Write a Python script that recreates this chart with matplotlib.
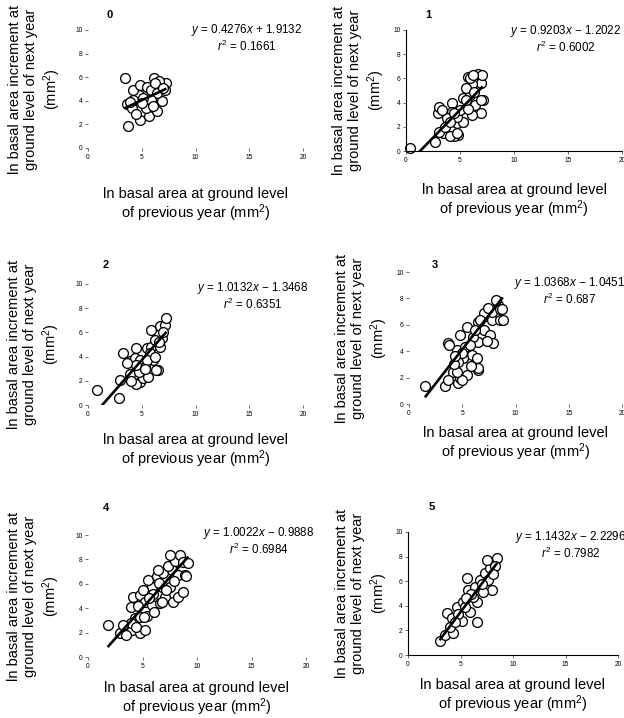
import numpy as np
import matplotlib.pyplot as plt

plt.rcParams['font.family'] = ['Liberation Sans', 'DejaVu Sans']
plt.rcParams['mathtext.fontset'] = 'custom'
plt.rcParams['mathtext.rm'] = 'Liberation Sans'
plt.rcParams['mathtext.it'] = 'Liberation Sans:italic'

W, H = 624, 718

# ln basal area previous year (x) vs ln basal area increment next year (y), per panel
x0 = [3.4, 3.7, 6.1, 4.8, 5.7, 6.4, 6.9, 7.3, 5.4, 4.7, 4.2, 4.8, 6.6, 3.6, 4.1, 4.5, 5.5, 5.9,
      6.4, 4.2, 5.9, 7.2, 5.1, 6.2, 5.0, 6.0, 3.9, 7.0]
y0 = [5.9, 1.9, 5.9, 2.4, 2.7, 3.1, 4.0, 5.5, 3.4, 4.5, 4.9, 5.3, 5.7, 3.7, 3.4, 2.9, 5.2, 4.9,
      4.7, 4.1, 4.1, 4.9, 4.2, 5.5, 3.8, 3.6, 3.9, 5.1]

x1 = [0.4, 2.7, 3.4, 3.1, 3.6, 3.0, 3.1, 4.3, 4.3, 4.7, 4.8, 4.4, 4.1, 5.3, 5.9, 6.4, 6.9, 7.1,
      6.1, 5.3, 5.7, 6.7, 6.9, 6.1, 5.6, 6.3, 7.0, 4.7, 3.8, 4.1, 5.0, 5.7, 4.7, 4.4, 5.6, 6.9,
      5.9, 6.2, 3.3]
y1 = [0.25, 0.75, 1.5, 1.6, 2.0, 3.1, 3.6, 4.0, 3.2, 2.3, 1.3, 1.2, 1.2, 4.4, 4.6, 3.8, 3.1, 4.2,
      3.0, 2.4, 6.1, 6.4, 5.6, 5.5, 5.2, 4.9, 6.3, 2.8, 2.7, 2.4, 3.4, 3.5, 1.5, 3.1, 4.2, 4.2,
      6.0, 6.3, 3.4]

x2 = [0.8, 2.9, 3.3, 3.0, 4.5, 4.8, 4.5, 5.1, 5.6, 6.5, 6.0, 5.5, 5.9, 6.7, 6.9, 6.4, 6.7, 7.2,
      7.3, 3.9, 4.4, 4.8, 4.2, 3.9, 4.7, 5.3, 5.8, 6.2, 5.9, 7.0, 4.5, 5.5, 5.3, 6.3, 6.2, 3.6,
      4.0, 6.6]
y2 = [1.2, 0.6, 4.3, 2.1, 4.7, 1.9, 1.7, 2.2, 2.3, 2.9, 3.7, 4.7, 4.8, 4.8, 5.5, 5.8, 6.5, 6.6,
      7.2, 3.6, 3.9, 3.7, 3.1, 2.6, 2.7, 3.1, 4.3, 5.4, 6.2, 6.0, 3.3, 3.7, 3.0, 2.9, 4.0, 3.5,
      2.0, 5.2]

x3 = [1.5, 3.4, 4.6, 4.8, 4.1, 5.4, 6.5, 3.7, 4.5, 5.3, 4.8, 5.4, 6.5, 7.0, 7.6, 7.9, 6.5, 5.9,
      5.1, 4.6, 7.1, 7.8, 8.5, 8.4, 7.8, 7.0, 8.5, 8.7, 8.8, 6.7, 3.8, 6.4, 6.5, 3.7, 5.0, 6.0,
      7.3, 5.0, 4.5, 4.2, 5.7, 6.2, 7.4, 4.3, 5.8, 8.2]
y3 = [1.4, 1.4, 1.6, 2.0, 2.4, 2.2, 2.6, 4.6, 4.1, 4.3, 5.2, 5.8, 6.2, 5.6, 5.2, 4.6, 4.7, 3.7,
      3.5, 3.2, 6.7, 6.4, 6.4, 7.5, 7.0, 6.9, 7.2, 7.2, 6.4, 6.4, 4.5, 3.5, 2.7, 1.8, 1.8, 5.1,
      4.8, 3.9, 2.4, 3.0, 4.5, 5.6, 7.3, 3.6, 2.9, 7.9]

x4 = [1.8, 2.9, 3.6, 4.0, 4.8, 5.2, 4.3, 3.9, 4.1, 4.8, 5.2, 5.9, 6.6, 7.1, 7.8, 8.3, 8.7, 7.5,
      6.8, 5.9, 5.0, 5.5, 6.3, 6.9, 7.7, 8.3, 8.9, 7.3, 8.0, 7.5, 8.4, 8.7, 6.4, 6.0, 7.2, 4.8,
      5.4, 3.9, 3.2, 6.1, 5.1, 6.8, 9.0, 9.2, 4.6, 5.6, 6.5, 7.9, 3.5, 4.4]
y4 = [2.6, 2.0, 2.0, 2.2, 2.0, 2.2, 3.2, 4.1, 4.9, 5.1, 4.5, 4.3, 4.4, 4.9, 4.5, 4.9, 5.3, 5.7,
      5.7, 5.7, 5.5, 6.3, 6.6, 6.9, 7.1, 6.7, 6.7, 7.5, 7.9, 8.4, 8.4, 7.8, 7.1, 5.2, 5.5, 3.3,
      3.4, 2.8, 2.6, 3.7, 3.3, 4.5, 6.6, 7.7, 4.2, 4.8, 6.1, 6.2, 1.8, 2.5]

x5 = [3.0, 3.5, 4.3, 3.7, 4.2, 4.7, 5.2, 5.7, 5.6, 6.6, 5.9, 5.1, 6.6, 6.4, 6.9, 7.3, 7.8, 8.5,
      8.3, 7.6, 8.0, 7.1, 6.2, 5.4, 4.8, 7.5, 4.0, 6.0, 7.0, 8.1, 4.5, 5.5]
y5 = [1.1, 1.6, 1.8, 3.4, 3.0, 3.9, 4.3, 5.3, 6.3, 2.7, 3.5, 2.8, 4.3, 5.5, 6.1, 6.7, 7.1, 7.9,
      7.2, 6.1, 5.3, 5.1, 4.7, 3.9, 3.3, 7.7, 2.3, 5.0, 5.8, 6.6, 2.7, 4.6]

xs_all = [x0, x1, x2, x3, x4, x5]
ys_all = [y0, y1, y2, y3, y4, y5]
slopes = [0.4276, 0.9203, 1.0132, 1.0368, 1.0022, 1.1432]
intercepts = [1.9132, -1.2022, -1.3468, -1.0451, -0.9888, -2.2296]
r2_text = ['0.1661', '0.6002', '0.6351', '0.687', '0.6984', '0.7982']
panel_names = ['0', '1', '2', '3', '4', '5']
x_ticks = [0, 5, 10, 15, 20]
y_ticks = [0, 2, 4, 6, 8, 10]

xlabel = 'ln basal area at ground level\nof previous year (mm$^2$)'
ylabel = 'ln basal area increment at\nground level of next year\n(mm$^2$)'

# layout in pixels: axes box (left, top, right, bottom)
boxes = [(88, 30, 303, 148), (406, 30, 622, 151), (88, 284, 303, 405),
         (409, 272, 622, 404), (88, 535, 306, 657), (408, 532, 618, 655)]
show_spines = [False, True, False, False, False, True]
name_pos = [(110, 15), (428, 15), (106, 265), (435, 265), (106, 508), (432, 507)]
eq_pos = [(247, 30), (566, 31), (253, 288), (570, 283), (259, 533), (571, 537)]
xlab_gap = [39, 32, 28, 22, 24, 23]
ylab_gap = [25, 19, 26, 19, 26, 18]

fig = plt.figure(figsize=(W / 100, H / 100), dpi=100)

for i in range(6):
    l, t, r, b = boxes[i]
    ax = fig.add_axes([l / W, 1 - b / H, (r - l) / W, (b - t) / H])
    x = np.array(xs_all[i])
    y = np.array(ys_all[i])
    ax.scatter(x, y, s=50, facecolors='white', edgecolors='black', linewidths=0.95,
               zorder=2, clip_on=False)
    lx = np.array([x.min(), x.max()])
    ax.plot(lx, slopes[i] * lx + intercepts[i], color='black', lw=1.9,
            solid_capstyle='butt', zorder=3)
    ax.set_xlim(0, 20)
    ax.set_ylim(0, 10)
    ax.set_xticks(x_ticks)
    ax.set_yticks(y_ticks)
    ax.tick_params(length=2, width=0.6, color='#555555', labelsize=4.8, pad=2)
    for side in ['top', 'right']:
        ax.spines[side].set_visible(False)
    for side in ['left', 'bottom']:
        ax.spines[side].set_visible(show_spines[i])
        ax.spines[side].set_linewidth(0.8)
    ax.patch.set_alpha(0)

    ax.set_xlabel(xlabel, fontsize=10.5, linespacing=1.1)
    ax.xaxis.set_label_coords(0.5, -xlab_gap[i] / (b - t))
    ax.set_ylabel(ylabel, fontsize=10.5, linespacing=1.2)
    ax.yaxis.set_label_coords(-ylab_gap[i] / (r - l), 0.5)

    nx, ny = name_pos[i]
    fig.text(nx / W, 1 - ny / H, panel_names[i], fontsize=8, fontweight='bold',
             ha='center', va='center')
    ex, ey = eq_pos[i]
    sign = '+' if intercepts[i] >= 0 else '\u2212'
    line1 = '$y$ = %.4f$x$ %s %.4f' % (slopes[i], sign, abs(intercepts[i]))
    fig.text(ex / W, 1 - ey / H, line1, fontsize=8.4, ha='center', va='center')
    fig.text(ex / W, 1 - (ey + 16) / H, '$r^2$ = ' + r2_text[i], fontsize=8.4,
             ha='center', va='center')

plt.savefig('out.png', dpi=100)
